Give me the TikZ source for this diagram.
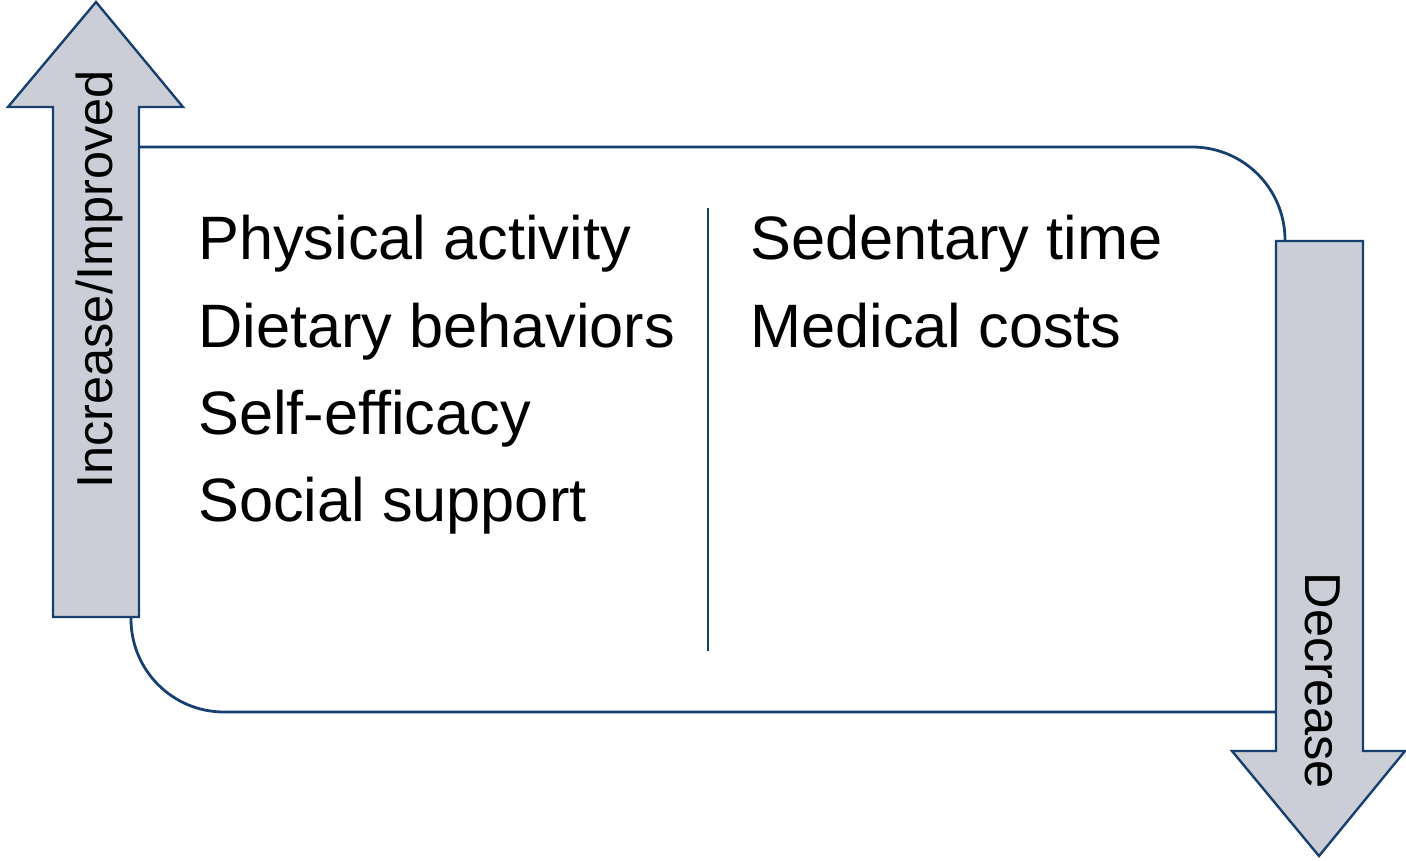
\documentclass[tikz,border=0pt]{standalone}
\usepackage{fontspec}
\setmainfont{Liberation Sans}
\definecolor{navy}{RGB}{24,64,110}
\definecolor{arrowfill}{RGB}{203,206,214}
\tikzset{
  frame/.style={draw=navy, line width=2.8pt},
  bigarrow/.style={draw=navy, fill=arrowfill, line width=2.4pt, line join=miter},
  divider/.style={draw=navy, line width=2pt},
  item/.style={inner sep=0pt, anchor=base west, font=\fontsize{61.3}{72}\selectfont},
  tag/.style={inner sep=0pt, anchor=base, font=\fontsize{50.5}{60}\selectfont}
}
\begin{document}
\begin{tikzpicture}[x=1pt, y=-1pt]
\useasboundingbox (0,0) rectangle (1406,861);

% outer frame with two rounded corners
\draw[frame] (131,147) -- (1192,147)
  .. controls (1243.4,147) and (1285,188.6) .. (1285,240)
  -- (1285,712) -- (224,712)
  .. controls (172.6,712) and (131,670.4) .. (131,619) -- cycle;

% upward arrow on the left
\draw[bigarrow] (53,617) -- (53,107) -- (8,107) -- (96,2) -- (183,107)
  -- (139,107) -- (139,617) -- cycle;

% downward arrow on the right
\draw[bigarrow] (1276,241) -- (1363,241) -- (1363,751) -- (1405,751)
  -- (1319,856) -- (1232,751) -- (1276,751) -- cycle;

% column divider
\coordinate (divtop) at (708,208);
\coordinate (divbot) at (708,651);
\draw[divider] (divtop) -- (divbot);

% arrow labels
\node[tag, rotate=90] (up) at (112,279.5) {Increase/Improved};
\node[tag, rotate=-90] (down) at (1305,681) {Decrease};

% left column
\node[item] (pa) at (198,260) {Physical activity};
\node[item] (db) at (198,347) {Dietary behaviors};
\node[item] (se) at (198,434) {Self-efficacy};
\node[item] (ss) at (198,521) {Social support};

% right column
\node[item] (st) at (750,260) {Sedentary time};
\node[item] (mc) at (750,347) {Medical costs};
\end{tikzpicture}
\end{document}
